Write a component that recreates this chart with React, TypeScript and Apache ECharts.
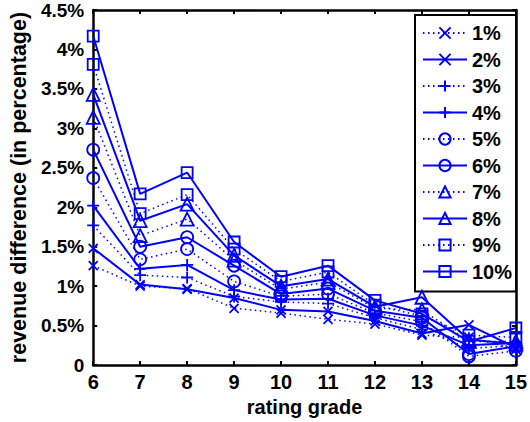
import React, { useEffect, useRef } from 'react';
import * as echarts from 'echarts';

// Rating grades on the horizontal axis
const grades = [6, 7, 8, 9, 10, 11, 12, 13, 14, 15];

// Legend labels, one per curve
const seriesNames = ['1%', '2%', '3%', '4%', '5%', '6%', '7%', '8%', '9%', '10%'];

// Revenue difference (in %) for each curve, per rating grade
const rev1 = [1.26, 1.0, 0.97, 0.72, 0.66, 0.58, 0.52, 0.38, 0.35, 0.2];
const rev2 = [1.48, 1.02, 0.96, 0.85, 0.7, 0.68, 0.56, 0.4, 0.51, 0.22];
const rev3 = [1.77, 1.14, 1.11, 0.87, 0.8, 0.78, 0.6, 0.45, 0.21, 0.25];
const rev4 = [2.02, 1.22, 1.27, 0.95, 0.83, 0.84, 0.63, 0.5, 0.25, 0.28];
const rev5 = [2.37, 1.34, 1.47, 1.06, 0.87, 0.9, 0.66, 0.55, 0.11, 0.18];
const rev6 = [2.73, 1.5, 1.62, 1.26, 0.9, 0.97, 0.69, 0.6, 0.14, 0.24];
const rev7 = [3.14, 1.64, 1.85, 1.33, 0.96, 1.05, 0.72, 0.7, 0.3, 0.3];
const rev8 = [3.43, 1.83, 2.04, 1.39, 1.0, 1.09, 0.74, 0.86, 0.32, 0.27];
const rev9 = [3.81, 1.92, 2.16, 1.47, 1.06, 1.18, 0.76, 0.62, 0.38, 0.35];
const rev10 = [4.17, 2.17, 2.44, 1.56, 1.12, 1.26, 0.82, 0.65, 0.3, 0.47];

const allSeries = [rev1, rev2, rev3, rev4, rev5, rev6, rev7, rev8, rev9, rev10];

// Y tick values and labels
const yTicks = [0, 0.5, 1, 1.5, 2, 2.5, 3, 3.5, 4, 4.5];
const yTickLabels = ['0', '0.5%', '1%', '1.5%', '2%', '2.5%', '3%', '3.5%', '4%', '4.5%'];

const BLUE = '#0000ff';
const FONT = "'Liberation Sans', Arial, Helvetica, sans-serif";

// Marker shapes: cross, plus, circle, triangle, square (each used by a dotted and a solid curve)
const markers = [
  { symbol: 'path://M0,0L10,10M10,0L0,10', size: 9 },
  { symbol: 'path://M5,0L5,10M0,5L10,5', size: 12 },
  { symbol: 'circle', size: 12 },
  { symbol: 'triangle', size: 13 },
  { symbol: 'rect', size: 11 },
];

export default function App() {
  const ref = useRef<HTMLDivElement>(null);

  useEffect(() => {
    document.body.style.margin = '0';
    if (!ref.current) return;
    const chart = echarts.init(ref.current, undefined, { renderer: 'svg' });

    const series = allSeries.map((vals, i) => {
      const m = markers[Math.floor(i / 2)];
      const dotted = i % 2 === 0;
      return {
        name: seriesNames[i],
        type: 'line',
        xAxisIndex: 0,
        yAxisIndex: 0,
        data: grades.map((g, k) => [g, vals[k]]),
        symbol: m.symbol,
        symbolSize: m.size,
        showAllSymbol: true,
        lineStyle: {
          color: BLUE,
          width: dotted ? 1.5 : 2,
          type: dotted ? [1.5, 3.5] : 'solid',
        },
        itemStyle: {
          color: 'transparent',
          borderColor: BLUE,
          borderWidth: 1.8,
        },
        emphasis: { disabled: true },
        z: 2 + i,
      };
    });

    const axisCommon = {
      axisLine: { show: true, onZero: false, lineStyle: { color: '#000', width: 2.5 } },
      axisTick: { show: true, inside: true, length: 4, lineStyle: { color: '#000', width: 2 } },
      splitLine: { show: false },
    };

    chart.setOption({
      animation: false,
      backgroundColor: '#fff',
      grid: { left: 87, right: 8, top: 10, bottom: 55, containLabel: false },
      xAxis: [
        {
          type: 'value',
          min: 6,
          max: 15,
          interval: 1,
          position: 'bottom',
          ...axisCommon,
          axisLabel: {
            show: true,
            margin: 7,
            color: '#000',
            fontSize: 20,
            fontWeight: 'bold',
            fontFamily: FONT,
          },
          name: 'rating grade',
          nameLocation: 'middle',
          nameGap: 31,
          nameTextStyle: { color: '#000', fontSize: 20, fontWeight: 'bold', fontFamily: FONT },
        },
        {
          type: 'value',
          min: 6,
          max: 15,
          interval: 1,
          position: 'top',
          ...axisCommon,
          axisLabel: { show: false },
        },
      ],
      yAxis: [
        {
          type: 'value',
          min: 0,
          max: 4.5,
          interval: 0.5,
          position: 'left',
          ...axisCommon,
          axisLabel: {
            show: true,
            margin: 9,
            color: '#000',
            fontSize: 19,
            fontWeight: 'bold',
            fontFamily: FONT,
            formatter: (v: number) => {
              const idx = yTicks.findIndex((t) => Math.abs(t - v) < 1e-6);
              return idx >= 0 ? yTickLabels[idx] : '';
            },
          },
          name: 'revenue difference (in percentage)',
          nameLocation: 'middle',
          nameGap: 63,
          nameTextStyle: { color: '#000', fontSize: 21.5, fontWeight: 'bold', fontFamily: FONT },
        },
        {
          type: 'value',
          min: 0,
          max: 4.5,
          interval: 0.5,
          position: 'right',
          ...axisCommon,
          axisLabel: { show: false },
        },
      ],
      legend: {
        show: true,
        orient: 'vertical',
        left: 415,
        top: 15,
        data: seriesNames,
        itemWidth: 44,
        itemHeight: 14,
        itemGap: 6.5,
        padding: [8, 4, 10, 7],
        backgroundColor: '#fff',
        borderColor: '#000',
        borderWidth: 2,
        borderRadius: 0,
        textStyle: {
          color: '#000',
          fontSize: 20,
          fontWeight: 'bold',
          fontFamily: FONT,
        },
        selectedMode: false,
      },
      series,
    });

    return () => {
      chart.dispose();
    };
  }, []);

  return <div ref={ref} style={{ width: 530, height: 422 }} />;
}
